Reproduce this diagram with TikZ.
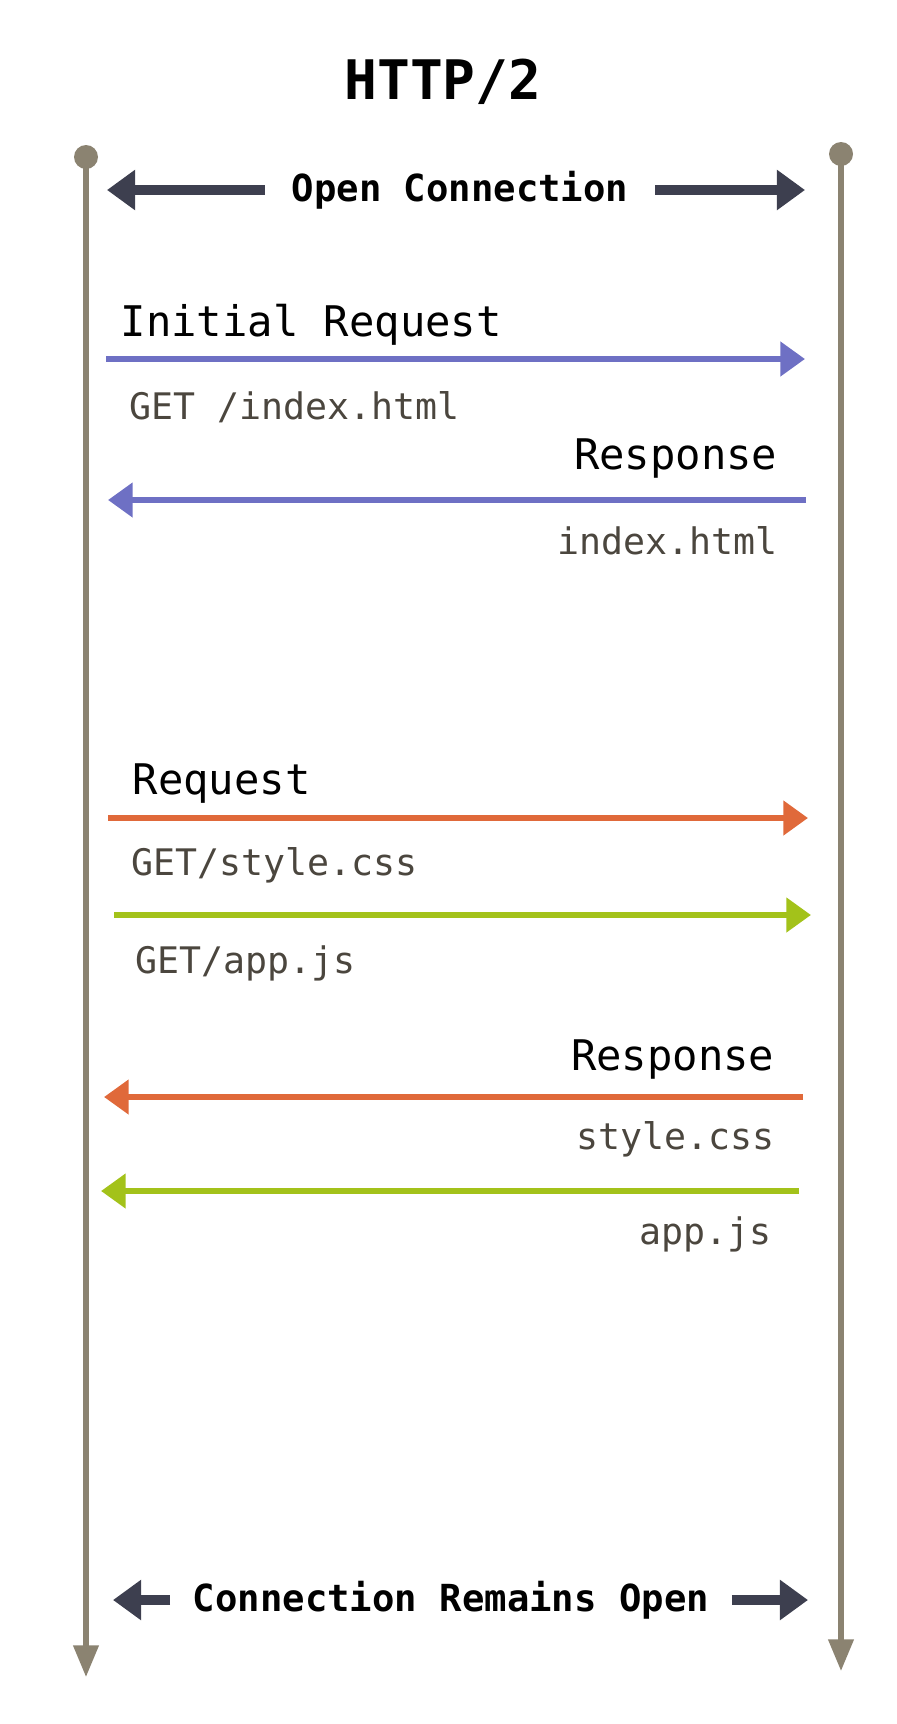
\documentclass[tikz,border=0pt]{standalone}
\usepackage{fontspec}
\setmonofont{DejaVu Sans Mono}
\usepackage{xcolor}
\usepackage{tikz}
\usetikzlibrary{arrows.meta}

\definecolor{lifegray}{HTML}{8B8371}
\definecolor{conndark}{HTML}{3D3F4F}
\definecolor{reqblue}{HTML}{6E70C4}
\definecolor{cssorange}{HTML}{E0693A}
\definecolor{jsgreen}{HTML}{A3C21A}
\definecolor{filegray}{HTML}{4B463E}

\tikzset{
  lifeline/.style={lifegray, line width=1.5pt, -{Triangle[length=9pt, width=7pt]}},
  connarrow/.style={conndark, line width=2.6pt, -{Triangle[length=8pt, width=11pt]}},
  msgarrow/.style={line width=1.9pt, -{Triangle[length=7pt, width=9.5pt]}},
  headtext/.style={font=\ttfamily\fontsize{12}{14}\selectfont, inner sep=0pt},
  boldtext/.style={font=\ttfamily\bfseries\fontsize{10.6}{13}\selectfont, inner sep=0pt},
  filetext/.style={font=\ttfamily\fontsize{10.4}{13}\selectfont, text=filegray, inner sep=0pt}
}

\begin{document}
\begin{tikzpicture}[x=0.01cm, y=-0.01cm]
\useasboundingbox (0,0) rectangle (896,1724);

\node[font=\ttfamily\bfseries\fontsize{15.5}{18}\selectfont, inner sep=0pt] (title) at (443,82) {HTTP/2};

% lifelines
\coordinate (ltop) at (86,157);
\coordinate (lbot) at (86,1677);
\coordinate (rtop) at (841,154);
\coordinate (rbot) at (841,1671);
\draw[lifeline] (ltop) -- (lbot);
\draw[lifeline] (rtop) -- (rbot);
\fill[lifegray] (ltop) circle (12);
\fill[lifegray] (rtop) circle (12);

% open connection
\node[boldtext] (open) at (460,190) {Open Connection};
\coordinate (openl) at (107,190);
\coordinate (openr) at (805,190);
\draw[connarrow] (open.west) ++(-26,0) -- (openl);
\draw[connarrow] (open.east) ++(26,0) -- (openr);

% initial request
\node[headtext, anchor=west] (initreq) at (120,325) {Initial Request};
\coordinate (b1s) at (106,359);
\coordinate (b1e) at (805,359);
\draw[msgarrow, reqblue] (b1s) -- (b1e);
\node[filetext, anchor=west] (getindex) at (129,407) {GET /index.html};

\node[headtext, anchor=east] (resp1) at (778,458) {Response};
\coordinate (b2s) at (806,500);
\coordinate (b2e) at (108,500);
\draw[msgarrow, reqblue] (b2s) -- (b2e);
\node[filetext, anchor=east] (index) at (778,541) {index.html};

% parallel requests
\node[headtext, anchor=west] (req) at (132,784) {Request};
\coordinate (o1s) at (108,818);
\coordinate (o1e) at (808,818);
\draw[msgarrow, cssorange] (o1s) -- (o1e);
\node[filetext, anchor=west] (getcss) at (131,865) {GET/style.css};
\coordinate (g1s) at (114,915);
\coordinate (g1e) at (811,915);
\draw[msgarrow, jsgreen] (g1s) -- (g1e);
\node[filetext, anchor=west] (getjs) at (135,963) {GET/app.js};

% parallel responses
\node[headtext, anchor=east] (resp2) at (775,1059) {Response};
\coordinate (o2s) at (803,1097);
\coordinate (o2e) at (104,1097);
\draw[msgarrow, cssorange] (o2s) -- (o2e);
\node[filetext, anchor=east] (css) at (775,1139) {style.css};
\coordinate (g2s) at (799,1191);
\coordinate (g2e) at (101,1191);
\draw[msgarrow, jsgreen] (g2s) -- (g2e);
\node[filetext, anchor=east] (js) at (772,1234) {app.js};

% remains open
\node[boldtext] (remains) at (451,1600) {Connection Remains Open};
\coordinate (reml) at (113,1600);
\coordinate (remr) at (808,1600);
\draw[connarrow] (remains.west) ++(-22,0) -- (reml);
\draw[connarrow] (remains.east) ++(22,0) -- (remr);
\end{tikzpicture}
\end{document}
